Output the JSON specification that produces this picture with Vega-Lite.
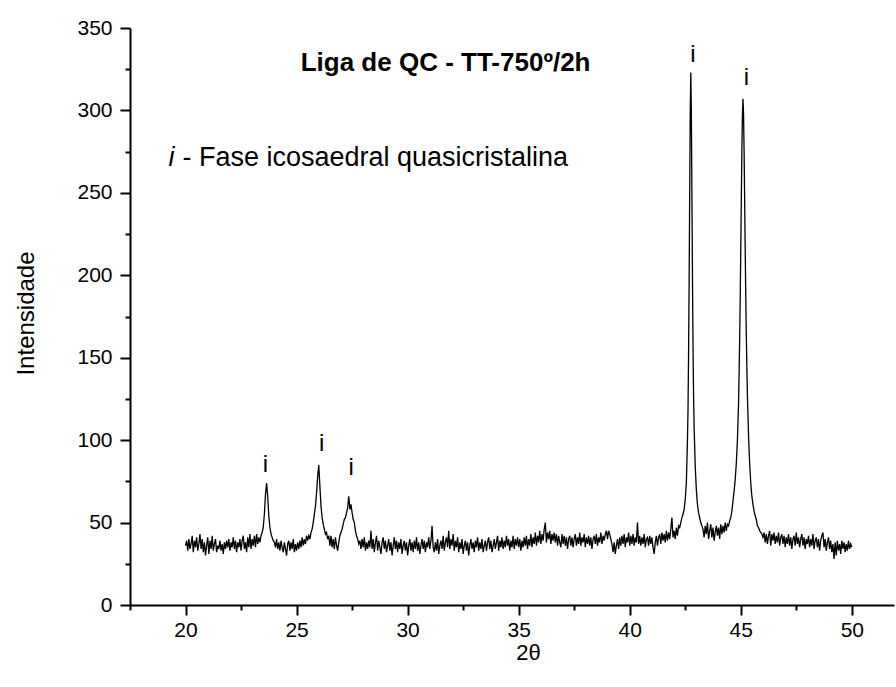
{
"$schema": "https://vega.github.io/schema/vega-lite/v6.json",
"autosize": {"type": "none"},
"padding": {"left": 130, "top": 28, "right": 2, "bottom": 82},
"width": 764,
"height": 577,
"background": "white",
"config": {"view": {"stroke": null}, "font": "Liberation Sans"},
"resolve": {"axis": {"x": "independent", "y": "independent"}},
"datasets": {
"xrd": [
{"x":20.00,"y":36},{"x":20.05,"y":39},{"x":20.10,"y":33},{"x":20.15,"y":40},{"x":20.20,"y":34},{"x":20.25,"y":37},{"x":20.30,"y":42},{"x":20.35,"y":32},{"x":20.40,"y":39},{"x":20.45,"y":35},
{"x":20.50,"y":41},{"x":20.55,"y":33},{"x":20.60,"y":37},{"x":20.65,"y":43},{"x":20.70,"y":34},{"x":20.75,"y":40},{"x":20.80,"y":32},{"x":20.85,"y":38},{"x":20.90,"y":30},{"x":20.95,"y":36},
{"x":21.00,"y":41},{"x":21.05,"y":31},{"x":21.10,"y":39},{"x":21.15,"y":34},{"x":21.20,"y":42},{"x":21.25,"y":33},{"x":21.30,"y":37},{"x":21.35,"y":40},{"x":21.40,"y":32},{"x":21.45,"y":36},
{"x":21.50,"y":34},{"x":21.55,"y":39},{"x":21.60,"y":33},{"x":21.65,"y":37},{"x":21.70,"y":31},{"x":21.75,"y":38},{"x":21.80,"y":34},{"x":21.85,"y":39},{"x":21.90,"y":35},{"x":21.95,"y":40},
{"x":22.00,"y":33},{"x":22.05,"y":38},{"x":22.10,"y":35},{"x":22.15,"y":41},{"x":22.20,"y":34},{"x":22.25,"y":39},{"x":22.30,"y":32},{"x":22.35,"y":38},{"x":22.40,"y":35},{"x":22.45,"y":40},
{"x":22.50,"y":33},{"x":22.55,"y":39},{"x":22.60,"y":42},{"x":22.65,"y":34},{"x":22.70,"y":38},{"x":22.75,"y":32},{"x":22.80,"y":41},{"x":22.85,"y":35},{"x":22.90,"y":43},{"x":22.95,"y":34},
{"x":23.00,"y":40},{"x":23.05,"y":36},{"x":23.10,"y":42},{"x":23.15,"y":35},{"x":23.20,"y":43},{"x":23.25,"y":37},{"x":23.30,"y":41},{"x":23.35,"y":38},
{"x":23.40,"y":42},{"x":23.45,"y":44},{"x":23.50,"y":47},{"x":23.55,"y":55},{"x":23.60,"y":67},{"x":23.65,"y":74},{"x":23.70,"y":66},{"x":23.75,"y":54},{"x":23.80,"y":47},{"x":23.85,"y":43},{"x":23.90,"y":41},{"x":23.95,"y":39},
{"x":24.00,"y":38},{"x":24.05,"y":35},{"x":24.10,"y":40},{"x":24.15,"y":34},{"x":24.20,"y":38},{"x":24.25,"y":33},{"x":24.30,"y":39},{"x":24.35,"y":35},{"x":24.40,"y":32},{"x":24.45,"y":38},
{"x":24.50,"y":34},{"x":24.55,"y":30},{"x":24.60,"y":37},{"x":24.65,"y":39},{"x":24.70,"y":33},{"x":24.75,"y":38},{"x":24.80,"y":34},{"x":24.85,"y":40},{"x":24.90,"y":32},{"x":24.95,"y":37},
{"x":25.00,"y":33},{"x":25.05,"y":38},{"x":25.10,"y":34},{"x":25.15,"y":39},{"x":25.20,"y":35},{"x":25.25,"y":41},{"x":25.30,"y":36},{"x":25.35,"y":40},{"x":25.40,"y":37},{"x":25.45,"y":42},
{"x":25.50,"y":39},{"x":25.55,"y":42},{"x":25.60,"y":40},{"x":25.65,"y":44},{"x":25.70,"y":46},{"x":25.75,"y":50},{"x":25.80,"y":55},{"x":25.85,"y":60},{"x":25.90,"y":68},{"x":25.95,"y":78},
{"x":26.00,"y":85},{"x":26.05,"y":72},{"x":26.10,"y":60},{"x":26.15,"y":53},{"x":26.20,"y":49},{"x":26.25,"y":46},{"x":26.30,"y":43},{"x":26.35,"y":44},{"x":26.40,"y":40},
{"x":26.45,"y":42},{"x":26.50,"y":36},{"x":26.55,"y":42},{"x":26.60,"y":35},{"x":26.65,"y":40},{"x":26.70,"y":34},{"x":26.75,"y":41},{"x":26.80,"y":36},
{"x":26.85,"y":33},{"x":26.90,"y":38},{"x":26.95,"y":42},{"x":27.00,"y":44},{"x":27.05,"y":46},{"x":27.10,"y":49},{"x":27.15,"y":52},{"x":27.20,"y":53},{"x":27.25,"y":56},{"x":27.30,"y":59},
{"x":27.35,"y":66},{"x":27.40,"y":58},{"x":27.45,"y":61},{"x":27.50,"y":56},{"x":27.55,"y":52},{"x":27.60,"y":50},{"x":27.65,"y":45},{"x":27.70,"y":42},{"x":27.75,"y":40},{"x":27.80,"y":37},
{"x":27.85,"y":39},{"x":27.90,"y":34},{"x":27.95,"y":40},{"x":28.00,"y":35},{"x":28.05,"y":41},{"x":28.10,"y":33},{"x":28.15,"y":38},{"x":28.20,"y":34},{"x":28.25,"y":39},{"x":28.30,"y":35},
{"x":28.35,"y":45},{"x":28.40,"y":34},{"x":28.45,"y":40},{"x":28.50,"y":32},{"x":28.55,"y":38},{"x":28.60,"y":42},{"x":28.65,"y":33},{"x":28.70,"y":39},{"x":28.75,"y":35},{"x":28.80,"y":31},
{"x":28.85,"y":38},{"x":28.90,"y":41},{"x":28.95,"y":34},{"x":29.00,"y":39},{"x":29.05,"y":32},{"x":29.10,"y":36},{"x":29.15,"y":40},{"x":29.20,"y":33},{"x":29.25,"y":38},{"x":29.30,"y":30},
{"x":29.35,"y":36},{"x":29.40,"y":41},{"x":29.45,"y":34},{"x":29.50,"y":39},{"x":29.55,"y":32},{"x":29.60,"y":38},{"x":29.65,"y":34},{"x":29.70,"y":40},{"x":29.75,"y":31},{"x":29.80,"y":36},
{"x":29.85,"y":39},{"x":29.90,"y":33},{"x":29.95,"y":38},{"x":30.00,"y":30},{"x":30.05,"y":36},{"x":30.10,"y":40},{"x":30.15,"y":33},{"x":30.20,"y":38},{"x":30.25,"y":32},{"x":30.30,"y":39},
{"x":30.35,"y":34},{"x":30.40,"y":41},{"x":30.45,"y":33},{"x":30.50,"y":38},{"x":30.55,"y":31},{"x":30.60,"y":36},{"x":30.65,"y":40},{"x":30.70,"y":34},{"x":30.75,"y":39},{"x":30.80,"y":32},
{"x":30.85,"y":38},{"x":30.90,"y":35},{"x":30.95,"y":41},{"x":31.00,"y":34},{"x":31.05,"y":39},{"x":31.10,"y":48},{"x":31.15,"y":35},{"x":31.20,"y":32},{"x":31.25,"y":38},{"x":31.30,"y":33},
{"x":31.35,"y":40},{"x":31.40,"y":31},{"x":31.45,"y":36},{"x":31.50,"y":39},{"x":31.55,"y":34},{"x":31.60,"y":42},{"x":31.65,"y":33},{"x":31.70,"y":38},{"x":31.75,"y":41},{"x":31.80,"y":35},
{"x":31.85,"y":45},{"x":31.90,"y":34},{"x":31.95,"y":40},{"x":32.00,"y":36},{"x":32.05,"y":43},{"x":32.10,"y":33},{"x":32.15,"y":39},{"x":32.20,"y":35},{"x":32.25,"y":41},{"x":32.30,"y":32},
{"x":32.35,"y":38},{"x":32.40,"y":34},{"x":32.45,"y":40},{"x":32.50,"y":31},{"x":32.55,"y":36},{"x":32.60,"y":39},{"x":32.65,"y":33},{"x":32.70,"y":38},{"x":32.75,"y":30},{"x":32.80,"y":36},
{"x":32.85,"y":40},{"x":32.90,"y":34},{"x":32.95,"y":38},{"x":33.00,"y":32},{"x":33.05,"y":39},{"x":33.10,"y":35},{"x":33.15,"y":41},{"x":33.20,"y":33},{"x":33.25,"y":38},{"x":33.30,"y":34},
{"x":33.35,"y":40},{"x":33.40,"y":32},{"x":33.45,"y":36},{"x":33.50,"y":39},{"x":33.55,"y":33},{"x":33.60,"y":38},{"x":33.65,"y":41},{"x":33.70,"y":34},{"x":33.75,"y":39},{"x":33.80,"y":32},
{"x":33.85,"y":36},{"x":33.90,"y":40},{"x":33.95,"y":34},{"x":34.00,"y":38},{"x":34.05,"y":42},{"x":34.10,"y":33},{"x":34.15,"y":39},{"x":34.20,"y":35},{"x":34.25,"y":41},{"x":34.30,"y":34},
{"x":34.35,"y":39},{"x":34.40,"y":35},{"x":34.45,"y":42},{"x":34.50,"y":36},{"x":34.55,"y":40},{"x":34.60,"y":33},{"x":34.65,"y":39},{"x":34.70,"y":35},{"x":34.75,"y":42},{"x":34.80,"y":34},
{"x":34.85,"y":40},{"x":34.90,"y":36},{"x":34.95,"y":41},{"x":35.00,"y":35},
{"x":35.05,"y":40},{"x":35.10,"y":33},{"x":35.15,"y":39},{"x":35.20,"y":35},{"x":35.25,"y":41},{"x":35.30,"y":36},{"x":35.35,"y":42},{"x":35.40,"y":34},{"x":35.45,"y":40},{"x":35.50,"y":36},
{"x":35.55,"y":43},{"x":35.60,"y":35},{"x":35.65,"y":41},{"x":35.70,"y":37},{"x":35.75,"y":44},{"x":35.80,"y":36},{"x":35.85,"y":42},{"x":35.90,"y":38},{"x":35.95,"y":45},{"x":36.00,"y":37},
{"x":36.05,"y":43},{"x":36.10,"y":39},{"x":36.15,"y":46},{"x":36.20,"y":50},{"x":36.25,"y":38},{"x":36.30,"y":44},{"x":36.35,"y":40},{"x":36.40,"y":45},{"x":36.45,"y":37},{"x":36.50,"y":43},
{"x":36.55,"y":39},{"x":36.60,"y":44},{"x":36.65,"y":38},{"x":36.70,"y":43},{"x":36.75,"y":36},{"x":36.80,"y":42},{"x":36.85,"y":38},{"x":36.90,"y":35},{"x":36.95,"y":43},{"x":37.00,"y":37},
{"x":37.05,"y":42},{"x":37.10,"y":36},{"x":37.15,"y":41},{"x":37.20,"y":34},{"x":37.25,"y":40},{"x":37.30,"y":42},{"x":37.35,"y":36},{"x":37.40,"y":41},{"x":37.45,"y":35},{"x":37.50,"y":40},
{"x":37.55,"y":43},{"x":37.60,"y":36},{"x":37.65,"y":41},{"x":37.70,"y":37},{"x":37.75,"y":44},{"x":37.80,"y":36},{"x":37.85,"y":41},{"x":37.90,"y":38},{"x":37.95,"y":43},{"x":38.00,"y":35},
{"x":38.05,"y":41},{"x":38.10,"y":37},{"x":38.15,"y":42},{"x":38.20,"y":36},{"x":38.25,"y":41},{"x":38.30,"y":34},{"x":38.35,"y":40},{"x":38.40,"y":42},{"x":38.45,"y":37},{"x":38.50,"y":43},
{"x":38.55,"y":36},{"x":38.60,"y":41},{"x":38.65,"y":38},{"x":38.70,"y":44},{"x":38.75,"y":37},{"x":38.80,"y":42},{"x":38.85,"y":39},{"x":38.90,"y":43},{"x":38.95,"y":45},{"x":39.00,"y":40},
{"x":39.05,"y":45},{"x":39.10,"y":43},{"x":39.15,"y":40},{"x":39.20,"y":37},{"x":39.25,"y":32},{"x":39.30,"y":38},{"x":39.35,"y":31},{"x":39.40,"y":36},{"x":39.45,"y":40},{"x":39.50,"y":34},
{"x":39.55,"y":41},{"x":39.60,"y":36},{"x":39.65,"y":42},{"x":39.70,"y":37},{"x":39.75,"y":43},{"x":39.80,"y":35},{"x":39.85,"y":41},{"x":39.90,"y":38},{"x":39.95,"y":44},{"x":40.00,"y":36},
{"x":40.05,"y":42},{"x":40.10,"y":37},{"x":40.15,"y":43},{"x":40.20,"y":36},{"x":40.25,"y":41},{"x":40.30,"y":38},{"x":40.35,"y":50},{"x":40.40,"y":37},{"x":40.45,"y":42},{"x":40.50,"y":36},
{"x":40.55,"y":41},{"x":40.60,"y":37},{"x":40.65,"y":43},{"x":40.70,"y":35},{"x":40.75,"y":40},{"x":40.80,"y":41},{"x":40.85,"y":36},{"x":40.90,"y":42},{"x":40.95,"y":37},{"x":41.00,"y":41},
{"x":41.05,"y":35},{"x":41.10,"y":31},{"x":41.15,"y":38},{"x":41.20,"y":42},{"x":41.25,"y":36},{"x":41.30,"y":41},{"x":41.35,"y":43},{"x":41.40,"y":37},{"x":41.45,"y":44},{"x":41.50,"y":39},
{"x":41.55,"y":43},{"x":41.60,"y":38},{"x":41.65,"y":45},{"x":41.70,"y":39},{"x":41.75,"y":44},{"x":41.80,"y":40},{"x":41.85,"y":46},{"x":41.90,"y":53},{"x":41.95,"y":41},{"x":42.00,"y":45},
{"x":42.05,"y":40},{"x":42.10,"y":47},{"x":42.15,"y":42},{"x":42.20,"y":48},{"x":42.25,"y":47},
{"x":42.30,"y":50},{"x":42.35,"y":53},{"x":42.40,"y":55},{"x":42.45,"y":58},{"x":42.50,"y":64},{"x":42.55,"y":74},{"x":42.60,"y":100},{"x":42.625,"y":118},{"x":42.65,"y":152},{"x":42.675,"y":196},
{"x":42.70,"y":248},{"x":42.725,"y":298},{"x":42.75,"y":323},{"x":42.775,"y":300},{"x":42.80,"y":250},{"x":42.825,"y":200},{"x":42.85,"y":158},{"x":42.875,"y":128},{"x":42.90,"y":108},{"x":42.95,"y":84},
{"x":43.00,"y":70},{"x":43.05,"y":61},{"x":43.10,"y":56},{"x":43.15,"y":53},{"x":43.20,"y":50},{"x":43.25,"y":48},
{"x":43.30,"y":46},{"x":43.35,"y":41},{"x":43.40,"y":48},{"x":43.45,"y":43},{"x":43.50,"y":50},{"x":43.55,"y":40},{"x":43.60,"y":45},{"x":43.65,"y":49},{"x":43.70,"y":41},{"x":43.75,"y":47},
{"x":43.80,"y":39},{"x":43.85,"y":44},{"x":43.90,"y":48},{"x":43.95,"y":42},{"x":44.00,"y":47},{"x":44.05,"y":40},{"x":44.10,"y":49},{"x":44.15,"y":43},{"x":44.20,"y":48},{"x":44.25,"y":44},
{"x":44.30,"y":50},{"x":44.35,"y":45},{"x":44.40,"y":49},{"x":44.45,"y":48},
{"x":44.50,"y":51},{"x":44.55,"y":53},{"x":44.60,"y":57},{"x":44.65,"y":63},{"x":44.70,"y":69},{"x":44.75,"y":76},{"x":44.80,"y":86},{"x":44.85,"y":100},{"x":44.90,"y":122},{"x":44.925,"y":140},
{"x":44.95,"y":160},{"x":44.975,"y":185},{"x":45.00,"y":215},{"x":45.025,"y":245},{"x":45.05,"y":275},{"x":45.075,"y":297},{"x":45.10,"y":307},{"x":45.125,"y":298},{"x":45.15,"y":276},{"x":45.175,"y":247},
{"x":45.20,"y":216},{"x":45.225,"y":188},{"x":45.25,"y":164},{"x":45.275,"y":144},{"x":45.30,"y":127},{"x":45.35,"y":103},{"x":45.40,"y":86},{"x":45.45,"y":74},{"x":45.50,"y":66},{"x":45.55,"y":61},
{"x":45.60,"y":57},{"x":45.65,"y":54},{"x":45.70,"y":52},{"x":45.75,"y":48},{"x":45.80,"y":47},{"x":45.85,"y":45},{"x":45.90,"y":44},{"x":45.95,"y":43},{"x":46.00,"y":41},
{"x":46.05,"y":44},{"x":46.10,"y":38},{"x":46.15,"y":43},{"x":46.20,"y":37},{"x":46.25,"y":42},{"x":46.30,"y":45},{"x":46.35,"y":36},{"x":46.40,"y":43},{"x":46.45,"y":39},{"x":46.50,"y":44},
{"x":46.55,"y":37},{"x":46.60,"y":42},{"x":46.65,"y":38},{"x":46.70,"y":44},{"x":46.75,"y":36},{"x":46.80,"y":41},{"x":46.85,"y":43},{"x":46.90,"y":37},{"x":46.95,"y":42},{"x":47.00,"y":35},
{"x":47.05,"y":41},{"x":47.10,"y":37},{"x":47.15,"y":43},{"x":47.20,"y":36},{"x":47.25,"y":41},{"x":47.30,"y":34},{"x":47.35,"y":40},{"x":47.40,"y":42},{"x":47.45,"y":36},{"x":47.50,"y":44},
{"x":47.55,"y":37},{"x":47.60,"y":41},{"x":47.65,"y":35},{"x":47.70,"y":40},{"x":47.75,"y":43},{"x":47.80,"y":36},{"x":47.85,"y":41},{"x":47.90,"y":34},{"x":47.95,"y":40},{"x":48.00,"y":37},
{"x":48.05,"y":42},{"x":48.10,"y":35},{"x":48.15,"y":40},{"x":48.20,"y":36},{"x":48.25,"y":43},{"x":48.30,"y":34},{"x":48.35,"y":39},{"x":48.40,"y":41},{"x":48.45,"y":35},{"x":48.50,"y":40},
{"x":48.55,"y":33},{"x":48.60,"y":39},{"x":48.65,"y":42},{"x":48.70,"y":44},{"x":48.75,"y":35},{"x":48.80,"y":40},{"x":48.85,"y":33},{"x":48.90,"y":38},{"x":48.95,"y":41},{"x":49.00,"y":34},
{"x":49.05,"y":39},{"x":49.10,"y":32},{"x":49.15,"y":37},{"x":49.20,"y":28},{"x":49.25,"y":38},{"x":49.30,"y":30},{"x":49.35,"y":39},{"x":49.40,"y":33},{"x":49.45,"y":37},{"x":49.50,"y":31},
{"x":49.55,"y":39},{"x":49.60,"y":34},{"x":49.65,"y":38},{"x":49.70,"y":32},{"x":49.75,"y":37},{"x":49.80,"y":33},{"x":49.85,"y":39},{"x":49.90,"y":34},{"x":49.95,"y":37},{"x":50.00,"y":35}
],
"peaks": [
{"x":23.60,"y":80.9,"t":"i"},{"x":26.13,"y":93.6,"t":"i"},{"x":27.46,"y":78.9,"t":"i"},{"x":42.85,"y":329.2,"t":"i"},{"x":45.26,"y":315.4,"t":"i"}
],
"title": [{"x":31.71,"y":324,"t":"Liga de QC - TT-750º/2h"}],
"legI": [{"x":19.23,"y":266,"t":"i"}],
"legT": [{"x":19.86,"y":266,"t":"- Fase icosaedral quasicristalina"}]
},
"layer": [
{
"data": {"name": "xrd"},
"mark": {"type": "line", "color": "black", "strokeWidth": 1.3},
"encoding": {
"x": {"field": "x", "type": "quantitative",
"scale": {"domain": [17.5, 51.9], "nice": false, "zero": false},
"axis": {
"orient": "bottom",
"values": [20,25,30,35,40,45,50],
"grid": false, "domainColor": "black", "domainWidth": 2, "tickColor": "black", "tickWidth": 2, "tickSize": 10,
"labelFont": "Liberation Sans", "labelFontSize": 21, "labelColor": "black", "labelPadding": 4, "labelFlush": false,
"title": "2θ", "titleFont": "Liberation Sans", "titleFontSize": 22, "titleFontWeight": "normal", "titleColor": "black",
"titleX": 398, "titleY": 54, "titleAlign": "center", "titleBaseline": "alphabetic"
}},
"y": {"field": "y", "type": "quantitative",
"scale": {"domain": [0, 350], "nice": false},
"axis": {
"orient": "left",
"values": [0,50,100,150,200,250,300,350],
"grid": false, "domainColor": "black", "domainWidth": 2, "tickColor": "black", "tickWidth": 2, "tickSize": 10,
"labelFont": "Liberation Sans", "labelFontSize": 21, "labelColor": "black", "labelPadding": 8, "labelFlush": false,
"title": "Intensidade", "titleFont": "Liberation Sans", "titleFontSize": 24, "titleFontWeight": "normal", "titleColor": "black",
"titleX": -97, "titleY": 285, "titleAngle": -90, "titleAlign": "center", "titleBaseline": "alphabetic"
}}
}
},
{
"data": {"name": "peaks"},
"mark": {"type": "text", "font": "Liberation Sans", "fontSize": 24, "align": "center", "baseline": "alphabetic", "color": "black"},
"encoding": {
"x": {"field": "x", "type": "quantitative",
"axis": {"orient": "bottom", "values": [17.5,22.5,27.5,32.5,37.5,42.5,47.5], "labels": false, "domain": false, "grid": false, "tickColor": "black", "tickWidth": 2, "tickSize": 5, "title": null}},
"y": {"field": "y", "type": "quantitative",
"axis": {"orient": "left", "values": [25,75,125,175,225,275,325], "labels": false, "domain": false, "grid": false, "tickColor": "black", "tickWidth": 2, "tickSize": 5, "title": null}},
"text": {"field": "t"}}
},
{
"data": {"name": "title"},
"mark": {"type": "text", "font": "Liberation Sans", "fontSize": 26, "fontWeight": "bold", "align": "center", "baseline": "alphabetic", "color": "black"},
"encoding": {"x": {"field": "x", "type": "quantitative", "axis": null}, "y": {"field": "y", "type": "quantitative", "axis": null}, "text": {"field": "t"}}
},
{
"data": {"name": "legI"},
"mark": {"type": "text", "font": "Liberation Sans", "fontSize": 27, "fontStyle": "italic", "align": "left", "baseline": "alphabetic", "color": "black"},
"encoding": {"x": {"field": "x", "type": "quantitative", "axis": null}, "y": {"field": "y", "type": "quantitative", "axis": null}, "text": {"field": "t"}}
},
{
"data": {"name": "legT"},
"mark": {"type": "text", "font": "Liberation Sans", "fontSize": 27, "align": "left", "baseline": "alphabetic", "color": "black"},
"encoding": {"x": {"field": "x", "type": "quantitative", "axis": null}, "y": {"field": "y", "type": "quantitative", "axis": null}, "text": {"field": "t"}}
}
]
}
